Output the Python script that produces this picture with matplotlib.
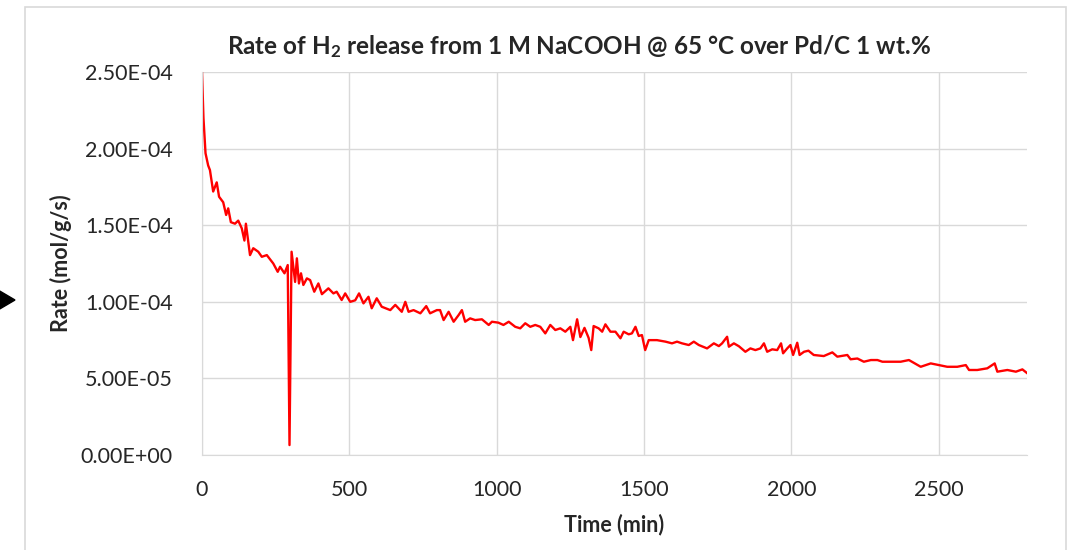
import matplotlib
matplotlib.use("Agg")
import matplotlib.pyplot as plt
from matplotlib.patches import Rectangle, Polygon
from matplotlib.ticker import MultipleLocator, FuncFormatter

# time (min) and rate (mol/g/s)
time_min = [0, 5, 12, 21, 27, 38, 50, 58, 72, 82, 89, 98, 112, 123, 135, 144, 149,
            163, 174, 191, 203, 220, 242, 257, 265, 280, 291, 297, 304, 316, 322, 329,
            336, 344, 356, 367, 381, 395, 407, 429, 446, 457, 474, 486, 503, 520, 533,
            548, 565, 576, 593, 610, 639, 656, 678, 690, 701, 718, 741, 761, 774, 797,
            808, 820, 837, 854, 871, 882, 893, 910, 927, 950, 973, 984, 1006, 1023,
            1041, 1063, 1080, 1097, 1114, 1131, 1148, 1165, 1182, 1199, 1216, 1233,
            1250, 1259, 1273, 1284, 1298, 1312, 1321, 1329, 1346, 1358, 1369, 1386,
            1403, 1420, 1431, 1448, 1459, 1471, 1482, 1493, 1504, 1516, 1544, 1573,
            1595, 1612, 1629, 1652, 1669, 1686, 1714, 1737, 1754, 1765, 1782, 1788,
            1805, 1822, 1844, 1861, 1878, 1895, 1907, 1918, 1935, 1952, 1965, 1972,
            1986, 1997, 2006, 2020, 2028, 2043, 2058, 2076, 2110, 2139, 2156, 2190,
            2201, 2224, 2246, 2270, 2292, 2309, 2337, 2371, 2399, 2439, 2473, 2501,
            2529, 2563, 2592, 2603, 2631, 2665, 2690, 2699, 2733, 2762, 2784, 2801]
rate = [2.50e-4, 2.20e-4, 1.97e-4, 1.89e-4, 1.86e-4, 1.72e-4, 1.78e-4, 1.686e-4,
        1.65e-4, 1.567e-4, 1.61e-4, 1.52e-4, 1.51e-4, 1.53e-4, 1.48e-4, 1.40e-4,
        1.51e-4, 1.305e-4, 1.35e-4, 1.327e-4, 1.294e-4, 1.305e-4, 1.25e-4, 1.196e-4,
        1.229e-4, 1.186e-4, 1.24e-4, 6.5e-6, 1.327e-4, 1.13e-4, 1.284e-4, 1.12e-4,
        1.186e-4, 1.11e-4, 1.153e-4, 1.142e-4, 1.066e-4, 1.12e-4, 1.05e-4, 1.088e-4,
        1.055e-4, 1.066e-4, 1.012e-4, 1.055e-4, 1.0e-4, 1.01e-4, 1.055e-4, 9.9e-5,
        1.033e-4, 9.58e-5, 1.023e-4, 9.68e-5, 9.46e-5, 9.8e-5, 9.35e-5, 1.0e-4,
        9.35e-5, 9.46e-5, 9.25e-5, 9.72e-5, 9.25e-5, 9.46e-5, 9.46e-5, 8.81e-5,
        9.35e-5, 8.7e-5, 9.14e-5, 9.46e-5, 8.7e-5, 8.92e-5, 8.81e-5, 8.86e-5,
        8.49e-5, 8.7e-5, 8.64e-5, 8.49e-5, 8.7e-5, 8.37e-5, 8.27e-5, 8.6e-5, 8.37e-5,
        8.49e-5, 8.37e-5, 7.94e-5, 8.49e-5, 8.16e-5, 8.27e-5, 8.05e-5, 8.37e-5,
        7.5e-5, 8.86e-5, 7.7e-5, 8.3e-5, 7.65e-5, 6.85e-5, 8.42e-5, 8.27e-5, 8.05e-5,
        8.53e-5, 8.05e-5, 8.05e-5, 7.62e-5, 8.05e-5, 7.88e-5, 7.94e-5, 8.37e-5,
        7.77e-5, 7.83e-5, 6.85e-5, 7.5e-5, 7.5e-5, 7.4e-5, 7.29e-5, 7.4e-5, 7.29e-5,
        7.18e-5, 7.4e-5, 7.18e-5, 6.96e-5, 7.29e-5, 7.11e-5, 7.29e-5, 7.72e-5,
        7.07e-5, 7.29e-5, 7.1e-5, 6.74e-5, 6.96e-5, 6.85e-5, 6.96e-5, 7.29e-5,
        6.74e-5, 6.9e-5, 6.85e-5, 7.29e-5, 6.64e-5, 6.96e-5, 7.18e-5, 6.53e-5,
        7.33e-5, 6.53e-5, 6.74e-5, 6.81e-5, 6.53e-5, 6.46e-5, 6.7e-5, 6.42e-5,
        6.53e-5, 6.25e-5, 6.3e-5, 6.09e-5, 6.2e-5, 6.2e-5, 6.09e-5, 6.09e-5, 6.09e-5,
        6.2e-5, 5.76e-5, 5.98e-5, 5.87e-5, 5.76e-5, 5.76e-5, 5.87e-5, 5.55e-5,
        5.55e-5, 5.66e-5, 5.98e-5, 5.44e-5, 5.55e-5, 5.44e-5, 5.59e-5, 5.33e-5]

plt.rcParams['font.family'] = ['Lato', 'DejaVu Sans']
plt.rcParams['mathtext.fontset'] = 'custom'
plt.rcParams['mathtext.bf'] = 'Lato:bold'
plt.rcParams['mathtext.default'] = 'bf'

fig = plt.figure(figsize=(10.67, 5.5), dpi=100)
ax = fig.add_axes([0.1893, 0.1727, 0.7733, 0.6963])

# outer chart frame and the little arrow on the left edge
fig.add_artist(Rectangle((25 / 1067, -0.05), (1066 - 25) / 1067, 1.05 - 7 / 550,
                         transform=fig.transFigure, fill=False,
                         edgecolor='#d9d9d9', lw=1.2))
fig.add_artist(Polygon([(-2 / 1067, 1 - 290 / 550), (15 / 1067, 1 - 300 / 550),
                        (-2 / 1067, 1 - 310 / 550)], closed=True,
                       transform=fig.transFigure, color='black'))

ax.plot(time_min, rate, color='red', lw=1.7)

ax.set_xlim(0, 2800)
ax.set_ylim(0, 2.5e-4)
ax.xaxis.set_major_locator(MultipleLocator(500))
ax.yaxis.set_major_locator(MultipleLocator(5e-5))
ax.yaxis.set_major_formatter(FuncFormatter(lambda v, p: '%.2E' % v))

ax.grid(which='major', color='#d9d9d9', linestyle='-', lw=1)
ax.set_axisbelow(True)
for s in ['top', 'right']:
    ax.spines[s].set_visible(False)
for s in ['left', 'bottom']:
    ax.spines[s].set_color('#d9d9d9')
ax.tick_params(axis='both', length=0, labelsize=15.5, colors='#262626')
ax.tick_params(axis='y', pad=21)
ax.tick_params(axis='x', pad=18)

ax.set_xlabel('Time (min)', fontsize=15.5, fontweight='bold', color='#262626', labelpad=10)
ax.set_ylabel('Rate (mol/g/s)', fontsize=15.5, fontweight='bold', color='#262626', labelpad=6)
fig.text(579 / 1067, 1 - 47 / 550,
         'Rate of H$_2$ release from 1 M NaCOOH @ 65 °C over Pd/C 1 wt.%',
         fontsize=17.5, fontweight='bold', color='#262626', ha='center', va='center')

fig.savefig('out.png', dpi=100)
